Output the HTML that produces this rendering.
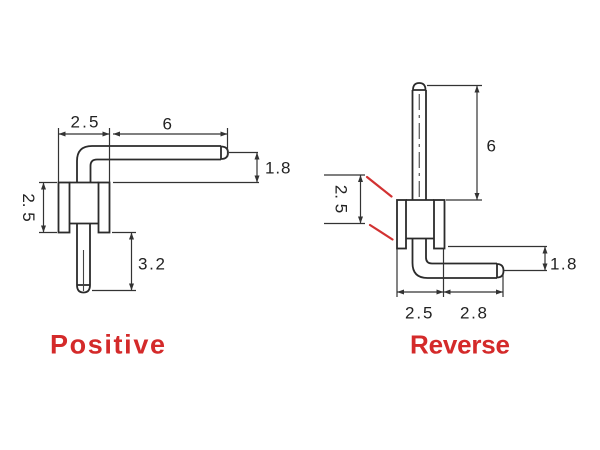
<!DOCTYPE html>
<html>
<head>
<meta charset="utf-8">
<style>
html,body{margin:0;padding:0;background:#fff;}
svg{display:block;}
text{font-family:"Liberation Sans",Arial,sans-serif;}
</style>
</head>
<body>
<svg width="600" height="450" viewBox="0 0 600 450" xmlns="http://www.w3.org/2000/svg">
<defs>
<marker id="ar" viewBox="0 0 7 5" refX="7" refY="2.5" markerWidth="7" markerHeight="5" markerUnits="userSpaceOnUse" orient="auto-start-reverse">
<path d="M0,0 L7,2.5 L0,5 z" fill="#333"/>
</marker>
</defs>
<rect width="600" height="450" fill="#fff"/>

<!-- ============ LEFT (Positive) ============ -->
<g fill="none" stroke="#2b2b2b" stroke-width="1.8">
  <rect x="58.5" y="182.5" width="11" height="50"/>
  <rect x="98.5" y="182.5" width="11" height="50"/>
  <path d="M69.5,182.5 L98.5,182.5 M69.5,223.5 L98.5,223.5"/>
  <path d="M77,223.5 L77,285 M90,223.5 L90,285 M77,285 L90,285"/>
  <path d="M77,285 Q77,292.5 83.5,292.5 Q90,292.5 90,285"/>
  <path d="M77,182.5 L77,161 Q77,146 92,146 L221,146"/>
  <path d="M90.5,182.5 L90.5,166 Q90.5,159.5 97,159.5 L221,159.5"/>
  <path d="M221,146 L221,159.5"/>
  <path d="M221,146.5 Q228,146.5 228,152.75 Q228,159 221,159"/>
</g>
<path d="M83.5,250 L83.5,291" stroke="#444" stroke-width="1.1"/>

<g fill="none" stroke="#333" stroke-width="1.2">
  <path d="M58.5,128 L58.5,182 M109.5,128 L109.5,182"/>
  <path d="M58.5,134 L109.5,134" marker-start="url(#ar)" marker-end="url(#ar)"/>
  <path d="M227.5,128 L227.5,157"/>
  <path d="M113,134 L227.5,134" marker-start="url(#ar)" marker-end="url(#ar)"/>
  <path d="M229,152.5 L258,152.5 M113,182.5 L259,182.5"/>
  <path d="M257,152.5 L257,182.5" marker-start="url(#ar)" marker-end="url(#ar)"/>
  <path d="M39,182.5 L57,182.5 M39,232.5 L57,232.5"/>
  <path d="M43.5,182.5 L43.5,232.5" marker-start="url(#ar)" marker-end="url(#ar)"/>
  <path d="M112,232.5 L136,232.5 M92,290.5 L136,290.5"/>
  <path d="M131.5,232.5 L131.5,290.5" marker-start="url(#ar)" marker-end="url(#ar)"/>
</g>

<g fill="#222" font-size="17">
  <text x="70.5" y="127.5" textLength="28" lengthAdjust="spacing">2.5</text>
  <text x="162.5" y="129.5">6</text>
  <text x="265" y="173.5" textLength="25.5" lengthAdjust="spacing">1.8</text>
  <text x="138" y="269.5" textLength="27" lengthAdjust="spacing">3.2</text>
  <text x="0" y="0" text-anchor="middle" dominant-baseline="central" transform="translate(28.5,207.5) rotate(90)">2. 5</text>
</g>

<text x="50" y="353.5" font-size="27" font-weight="bold" fill="#d42a2a" textLength="115" lengthAdjust="spacing">Positive</text>

<!-- ============ RIGHT (Reverse) ============ -->
<g fill="none" stroke="#2b2b2b" stroke-width="1.8">
  <path d="M412.5,90 L412.5,200 M426,90 L426,200 M412.5,90 L426,90"/>
  <path d="M413,90 Q413,83 419.25,83 Q425.5,83 425.5,90"/>
  <rect x="397" y="200" width="9" height="48.5"/>
  <rect x="434" y="200" width="10.5" height="48.5"/>
  <path d="M406,200 L434,200 M406,238.5 L434,238.5"/>
  <path d="M412.5,238.5 L412.5,263 Q412.5,278 427.5,278 L497,278"/>
  <path d="M426,238.5 L426,257.5 Q426,263.5 432,263.5 L497,263.5"/>
  <path d="M497,263.5 L497,278"/>
  <path d="M497,264 Q503.5,264 503.5,270.75 Q503.5,277.5 497,277.5"/>
</g>
<path d="M419.25,94 L419.25,198" stroke="#444" stroke-width="1.1" stroke-dasharray="16,5,3,5"/>

<g fill="none" stroke="#333" stroke-width="1.2">
  <path d="M427,85.5 L482,85.5 M446,200 L482,200"/>
  <path d="M477,85.5 L477,200" marker-start="url(#ar)" marker-end="url(#ar)"/>
  <path d="M324,175 L365,175 M324,223.5 L365,223.5"/>
  <path d="M360.5,175 L360.5,223.5" marker-start="url(#ar)" marker-end="url(#ar)"/>
  <path d="M448,246.5 L547,246.5 M504,270.5 L547,270.5"/>
  <path d="M545,246.5 L545,270.5" marker-start="url(#ar)" marker-end="url(#ar)"/>
  <path d="M397,249 L397,297 M443.5,249 L443.5,297 M503,273 L503,297"/>
  <path d="M397,292 L443.5,292" marker-start="url(#ar)" marker-end="url(#ar)"/>
  <path d="M443.5,292 L503,292" marker-start="url(#ar)" marker-end="url(#ar)"/>
</g>

<g stroke="#d23232" stroke-width="2.2" stroke-linecap="round">
  <path d="M367,177 L391.5,196.5"/>
  <path d="M370,225 L392.5,239.5"/>
</g>

<g fill="#222" font-size="17">
  <text x="486.5" y="151.5">6</text>
  <text x="0" y="0" text-anchor="middle" dominant-baseline="central" transform="translate(341,199) rotate(90)">2. 5</text>
  <text x="550" y="269.5" textLength="26.5" lengthAdjust="spacing">1.8</text>
  <text x="405" y="318.5" textLength="27.5" lengthAdjust="spacing">2.5</text>
  <text x="460" y="318.5" textLength="27" lengthAdjust="spacing">2.8</text>
</g>

<text x="410" y="353.5" font-size="26" font-weight="bold" fill="#d42a2a" textLength="100" lengthAdjust="spacing">Reverse</text>
</svg>
</body>
</html>
